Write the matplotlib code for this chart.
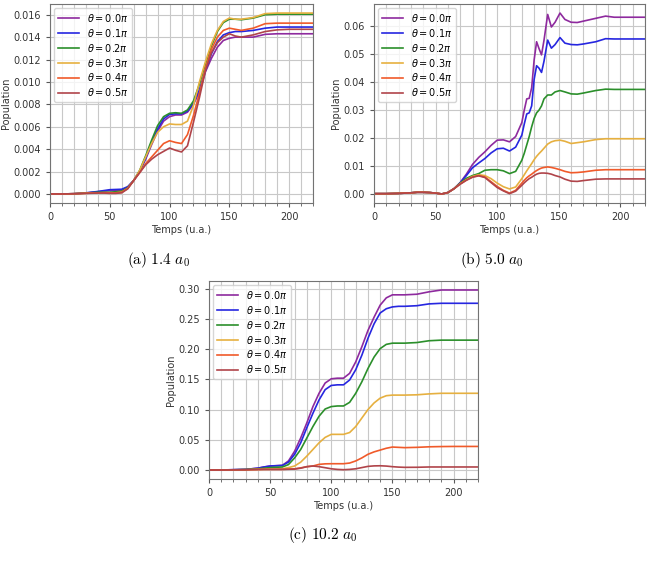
import numpy as np
import matplotlib
matplotlib.use("Agg")
import matplotlib.pyplot as plt
from matplotlib.ticker import MultipleLocator

plt.rcParams['mathtext.fontset'] = 'dejavusans'
plt.rcParams['font.size'] = 7

labels = [r'$\theta = 0.0\pi$', r'$\theta = 0.1\pi$', r'$\theta = 0.2\pi$',
          r'$\theta = 0.3\pi$', r'$\theta = 0.4\pi$', r'$\theta = 0.5\pi$']
couleurs = ['#8e2a9e', '#2626e0', '#2b8f2b', '#e6b040', '#f05a2a', '#b0444a']

# temps communs aux panneaux (a) et (c)
t_ac = [0, 10, 20, 30, 40, 45, 50, 55, 60, 65, 70, 75, 80, 85, 90, 95, 100, 105,
        110, 115, 120, 125, 130, 135, 140, 145, 150, 155, 160, 170, 180, 190,
        200, 210, 220]

# (a) 1.4 a0 -- valeurs en 1e-3
pop_a = [
    [0, 0, 0.02, 0.08, 0.2, 0.25, 0.3, 0.3, 0.35, 0.6, 1.2, 2.0, 3.1, 4.4, 5.6, 6.5, 6.9, 7.05,
     7.05, 7.3, 8.0, 9.1, 10.9, 12.1, 13.1, 13.7, 13.9, 14.0, 14.0, 14.0, 14.25, 14.3, 14.3, 14.3, 14.3],
    [0, 0, 0.02, 0.1, 0.22, 0.3, 0.38, 0.4, 0.42, 0.65, 1.2, 2.0, 3.2, 4.6, 5.8, 6.7, 7.1, 7.15,
     7.15, 7.4, 8.1, 9.3, 11.0, 12.5, 13.6, 14.2, 14.4, 14.5, 14.5, 14.6, 14.8, 14.9, 14.9, 14.9, 14.9],
    [0, 0, 0.02, 0.08, 0.15, 0.15, 0.15, 0.2, 0.25, 0.55, 1.2, 2.1, 3.4, 4.8, 6.1, 6.9, 7.2, 7.25,
     7.2, 7.5, 8.3, 9.8, 11.6, 13.2, 14.5, 15.3, 15.6, 15.6, 15.55, 15.7, 16.0, 16.05, 16.05, 16.05, 16.05],
    [0, 0, 0.02, 0.06, 0.1, 0.12, 0.1, 0.1, 0.15, 0.5, 1.2, 2.1, 3.3, 4.5, 5.5, 6.0, 6.25, 6.2,
     6.2, 6.5, 7.9, 10.0, 11.8, 13.4, 14.6, 15.4, 15.7, 15.6, 15.6, 15.75, 16.1, 16.15, 16.15, 16.15, 16.15],
    [0, 0, 0.02, 0.06, 0.1, 0.1, 0.1, 0.1, 0.15, 0.5, 1.2, 1.9, 2.7, 3.3, 3.9, 4.5, 4.75, 4.6,
     4.5, 5.3, 7.0, 9.0, 11.2, 12.9, 14.0, 14.6, 14.8, 14.7, 14.6, 14.8, 15.2, 15.25, 15.25, 15.25, 15.25],
    [0, 0, 0.02, 0.05, 0.08, 0.08, 0.05, 0.05, 0.1, 0.45, 1.2, 1.9, 2.6, 3.1, 3.5, 3.8, 4.1, 3.9,
     3.75, 4.3, 6.4, 8.6, 11.0, 12.6, 13.5, 14.0, 14.3, 14.1, 14.0, 14.2, 14.5, 14.65, 14.7, 14.7, 14.7],
]

# (b) 5.0 a0 -- temps plus fins, valeurs en 1e-3
t_b = [0, 10, 20, 30, 35, 40, 45, 50, 55, 60, 65, 70, 75, 80, 85, 90, 95, 100, 105, 110,
       115, 120, 122, 124, 126, 128, 130, 132, 134, 136, 138, 141, 144, 147, 151, 155, 160,
       165, 170, 180, 188, 195, 205, 220]
pop_b = [
    [0, 0, 0.1, 0.3, 0.5, 0.5, 0.4, 0.2, -0.1, 0.4, 1.8, 4.0, 7.0, 10.5, 13.0, 15.0, 17.3, 19.2,
     19.3, 18.6, 20.5, 25.5, 30.0, 34.0, 34.2, 38.0, 48.0, 54.5, 52.0, 49.8, 55.0, 64.3, 59.8,
     61.5, 64.8, 62.5, 61.5, 61.4, 61.9, 62.9, 63.7, 63.3, 63.3, 63.3],
    [0, 0, 0.1, 0.3, 0.5, 0.5, 0.4, 0.2, -0.1, 0.4, 1.8, 3.9, 6.5, 9.3, 11.0, 12.6, 14.6, 16.1,
     16.3, 15.3, 16.7, 21.0, 25.0, 28.6, 29.0, 31.5, 41.0, 45.9, 45.0, 43.5, 47.5, 55.1, 52.2,
     53.5, 56.0, 54.0, 53.5, 53.4, 53.7, 54.5, 55.6, 55.5, 55.5, 55.5],
    [0, 0, 0.1, 0.3, 0.5, 0.5, 0.4, 0.2, -0.1, 0.4, 1.8, 3.8, 5.5, 6.5, 7.2, 8.4, 8.6, 8.6,
     8.2, 7.2, 8.0, 12.0, 14.5, 17.5, 20.5, 24.0, 27.0, 29.0, 30.0, 31.5, 34.0, 35.4, 35.4,
     36.5, 37.0, 36.5, 35.8, 35.7, 36.1, 37.0, 37.5, 37.4, 37.4, 37.4],
    [0, 0, 0.1, 0.3, 0.5, 0.5, 0.4, 0.2, -0.1, 0.4, 1.8, 3.6, 5.0, 6.2, 6.8, 6.5, 5.4, 3.8,
     2.5, 1.7, 2.4, 5.4, 6.8, 8.2, 9.5, 10.8, 12.2, 13.4, 14.4, 15.3, 16.3, 17.8, 18.6,
     19.0, 19.2, 18.8, 18.0, 18.3, 18.6, 19.4, 19.7, 19.7, 19.7, 19.7],
    [0, 0, 0.1, 0.3, 0.5, 0.5, 0.4, 0.2, -0.1, 0.4, 1.8, 3.5, 4.9, 6.0, 6.5, 6.0, 4.3, 2.6,
     1.2, 0.2, 1.2, 3.8, 4.8, 5.7, 6.4, 7.0, 7.7, 8.3, 8.8, 9.2, 9.4, 9.6, 9.4,
     9.1, 8.6, 8.0, 7.5, 7.6, 7.8, 8.4, 8.6, 8.6, 8.6, 8.6],
    [0, 0, 0.1, 0.3, 0.5, 0.5, 0.4, 0.2, -0.1, 0.4, 1.8, 3.4, 4.8, 5.9, 6.4, 5.8, 4.0, 2.2,
     1.0, 0.0, 0.9, 3.0, 3.9, 4.7, 5.4, 5.9, 6.5, 7.0, 7.3, 7.4, 7.4, 7.3, 7.0,
     6.5, 6.0, 5.2, 4.5, 4.4, 4.7, 5.2, 5.3, 5.3, 5.3, 5.3],
]

# (c) 10.2 a0
pop_c = [
    [0, 0, 0.0005, 0.001, 0.003, 0.005, 0.0066, 0.0072, 0.0077, 0.015, 0.031, 0.053, 0.078, 0.105,
     0.127, 0.144, 0.151, 0.152, 0.152, 0.16, 0.179, 0.204, 0.231, 0.253, 0.273, 0.285, 0.29,
     0.29, 0.29, 0.291, 0.295, 0.298, 0.298, 0.298, 0.298],
    [0, 0, 0.0005, 0.001, 0.003, 0.005, 0.0066, 0.007, 0.0075, 0.013, 0.026, 0.045, 0.07, 0.094,
     0.116, 0.133, 0.14, 0.141, 0.141, 0.149, 0.166, 0.19, 0.218, 0.242, 0.26, 0.267, 0.27,
     0.271, 0.271, 0.272, 0.275, 0.276, 0.276, 0.276, 0.276],
    [0, 0, 0.0003, 0.0008, 0.002, 0.003, 0.004, 0.0045, 0.005, 0.009, 0.02, 0.034, 0.053, 0.072,
     0.089, 0.101, 0.105, 0.106, 0.106, 0.112, 0.127, 0.146, 0.168, 0.187, 0.201, 0.208, 0.21,
     0.21, 0.21, 0.211, 0.214, 0.215, 0.215, 0.215, 0.215],
    [0, 0, 0.0002, 0.0005, 0.001, 0.0012, 0.0013, 0.0015, 0.002, 0.004, 0.0066, 0.013, 0.023, 0.034,
     0.045, 0.054, 0.059, 0.059, 0.059, 0.062, 0.072, 0.086, 0.1, 0.111, 0.119, 0.123, 0.124,
     0.124, 0.124, 0.1245, 0.126, 0.127, 0.127, 0.127, 0.127],
    [0, 0, 0.0002, 0.0004, 0.0008, 0.001, 0.001, 0.001, 0.001, 0.0015, 0.002, 0.0035, 0.0055, 0.0066,
     0.0093, 0.0102, 0.0104, 0.0104, 0.0104, 0.0115, 0.015, 0.02, 0.026, 0.03, 0.033, 0.036, 0.038,
     0.0375, 0.037, 0.0375, 0.0384, 0.0388, 0.039, 0.039, 0.039],
    [0, 0, 0.0002, 0.0004, 0.0008, 0.001, 0.001, 0.001, 0.001, 0.0012, 0.0015, 0.003, 0.0055, 0.0066,
     0.0055, 0.0038, 0.002, 0.001, 0.0005, 0.001, 0.002, 0.004, 0.006, 0.0068, 0.007, 0.0065, 0.0055,
     0.0048, 0.0044, 0.0045, 0.005, 0.005, 0.005, 0.005, 0.005],
]


def tracer(ax, t, pops, echelle, fmt):
    for p, c, lab in zip(pops, couleurs, labels):
        ax.plot(t, np.array(p) * echelle, color=c, lw=1.2, label=lab)
    ax.set_xlim(0, 220)
    ax.xaxis.set_major_locator(MultipleLocator(50))
    ax.xaxis.set_minor_locator(MultipleLocator(10))
    ax.grid(which='major', color='#c8c8c8', lw=0.8)
    ax.grid(which='minor', axis='x', color='#c8c8c8', lw=0.8)
    ax.set_axisbelow(True)
    ax.yaxis.set_major_formatter(plt.FormatStrFormatter(fmt))
    for s in ax.spines.values():
        s.set_color('0.45')
    ax.tick_params(which='both', colors='0.35', labelcolor='0.2', length=3)
    ax.tick_params(which='minor', length=2)
    ax.set_xlabel('Temps (u.a.)', color='0.2', labelpad=2)
    ax.set_ylabel('Population', color='0.2', labelpad=1.5)
    ax.legend(loc='upper left', fontsize=7, handlelength=2.2, labelspacing=0.3,
              borderaxespad=0.4, borderpad=0.4)


W, H = 651, 561
fig = plt.figure(figsize=(W / 100, H / 100), dpi=100)

ax_a = fig.add_axes([50 / W, 1 - 203 / H, 263 / W, 199 / H])
ax_b = fig.add_axes([374 / W, 1 - 203 / H, 271 / W, 199 / H])
ax_c = fig.add_axes([209 / W, 1 - 479 / H, 269 / W, 198 / H])

tracer(ax_a, t_ac, pop_a, 1e-3, '%.3f')
tracer(ax_b, t_b, pop_b, 1e-3, '%.2f')
tracer(ax_c, t_ac, pop_c, 1.0, '%.2f')

cap = dict(ha='center', va='center', fontsize=11, math_fontfamily='cm')
fig.text(158 / W, 1 - 260 / H, r'$\mathrm{(a)\ 1.4}\ a_0$', **cap)
fig.text(492 / W, 1 - 260 / H, r'$\mathrm{(b)\ 5.0}\ a_0$', **cap)
fig.text(323 / W, 1 - 535 / H, r'$\mathrm{(c)\ 10.2}\ a_0$', **cap)

fig.savefig('out.png', dpi=100)
